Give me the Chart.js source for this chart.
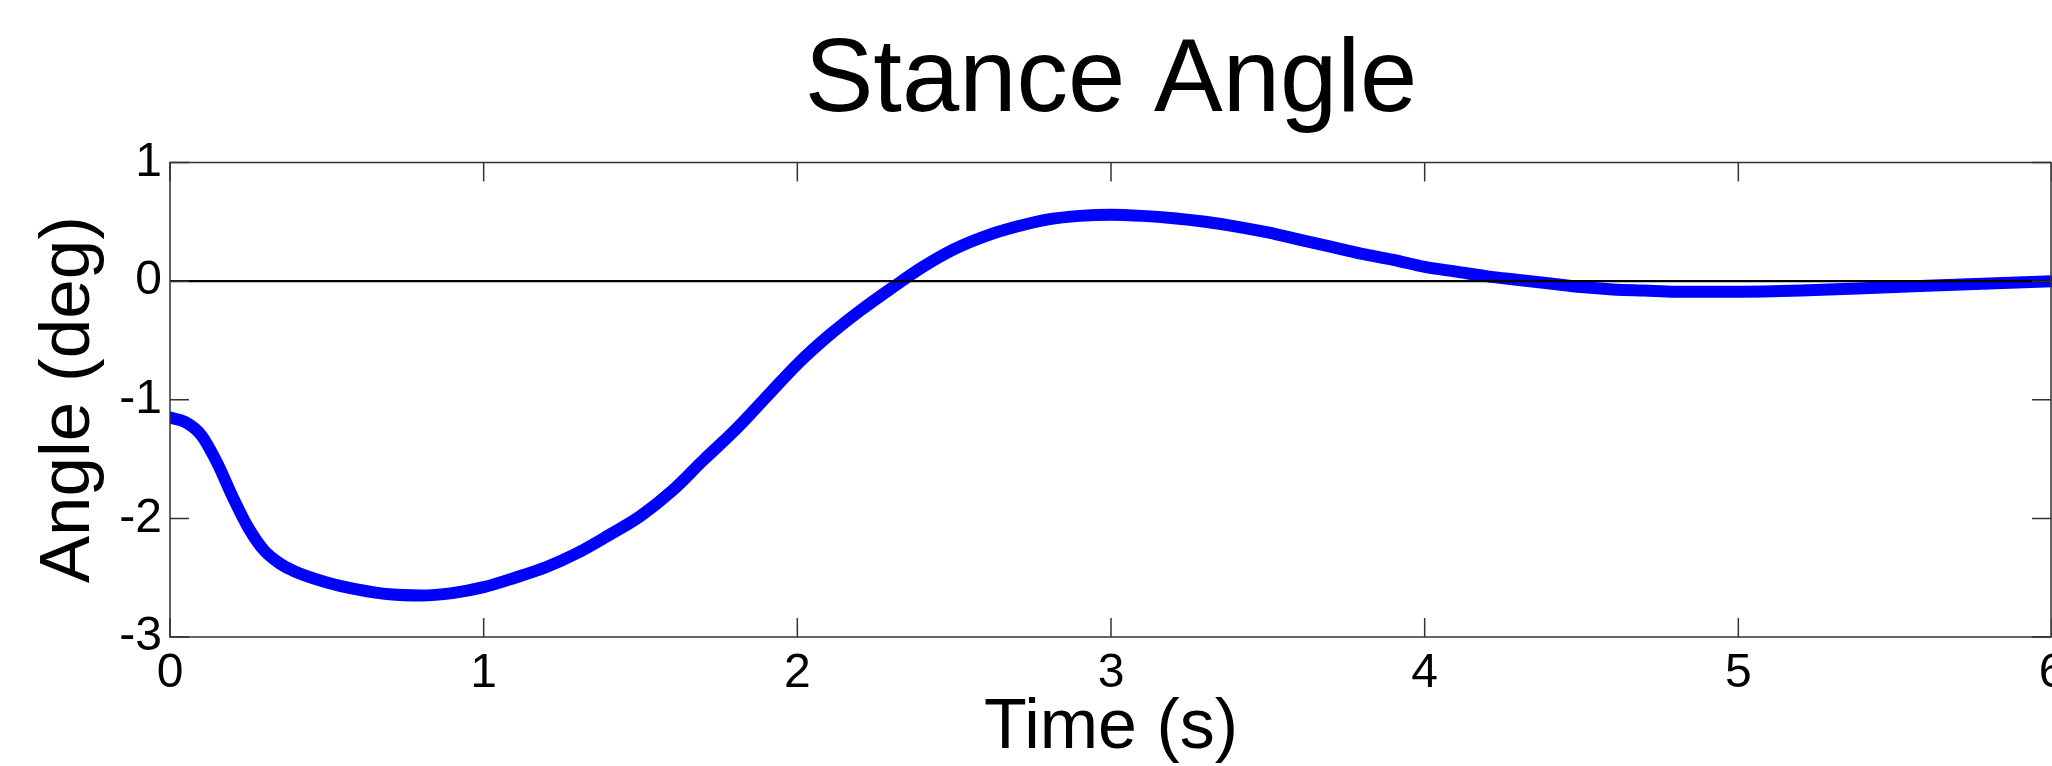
<!DOCTYPE html>
<html>
<head>
<meta charset="utf-8">
<script src="https://cdn.jsdelivr.net/npm/chart.js@4.4.1/dist/chart.umd.min.js"></script>
<style>
  html, body { margin: 0; padding: 0; background: #fff; overflow: hidden; }
  #wrap { width: 2052px; height: 766px; }
</style>
</head>
<body>
<div id="wrap"><canvas id="c" width="2052" height="766"></canvas></div>
<script>
// ---- data ----
const chartTitle = 'Stance Angle';
const xAxisTitle = 'Time (s)';
const yAxisTitle = 'Angle (deg)';
const xTicks = [0, 1, 2, 3, 4, 5, 6];
const yTicks = [-3, -2, -1, 0, 1];

const times = [0.00, 0.05, 0.10, 0.15, 0.20, 0.25, 0.30, 0.35, 0.40, 0.50,
               0.60, 0.70, 0.80, 0.90, 1.00, 1.10, 1.20, 1.30, 1.40, 1.50,
               1.60, 1.70, 1.80, 1.90, 2.00, 2.10, 2.20, 2.30, 2.40, 2.50,
               2.60, 2.70, 2.80, 2.90, 3.00, 3.10, 3.20, 3.30, 3.40, 3.50,
               3.60, 3.70, 3.80, 3.90, 4.00, 4.10, 4.20, 4.30, 4.40, 4.50,
               4.60, 4.70, 4.80, 4.90, 5.00, 5.20, 5.40, 5.60, 5.80, 6.00];
const angles = [-1.15, -1.19, -1.30, -1.53, -1.82, -2.08, -2.27, -2.38, -2.45, -2.54,
                -2.60, -2.64, -2.65, -2.63, -2.58, -2.50, -2.41, -2.29, -2.14, -1.98,
                -1.77, -1.51, -1.26, -0.98, -0.70, -0.46, -0.25, -0.06, 0.12, 0.27,
                0.38, 0.46, 0.52, 0.55, 0.56, 0.55, 0.53, 0.50, 0.46, 0.41,
                0.35, 0.29, 0.23, 0.18, 0.12, 0.08, 0.04, 0.01, -0.02, -0.05,
                -0.07, -0.08, -0.09, -0.09, -0.09, -0.08, -0.06, -0.04, -0.02, 0.00];

const refTimes = [0, 6];
const refValues = [0, 0];

// ---- build chart ----
const FONT = 'Liberation Sans, Arial, sans-serif';
const curve = times.map((t, i) => ({ x: t, y: angles[i] }));
const ref = refTimes.map((t, i) => ({ x: t, y: refValues[i] }));

const boxTicks = {
  id: 'boxTicks',
  afterDraw(chart) {
    const { ctx, chartArea: a, scales } = chart;
    const L = 19;
    ctx.save();
    ctx.strokeStyle = '#333';
    ctx.lineWidth = 1.5;
    ctx.strokeRect(a.left, a.top, a.right - a.left - 1, a.bottom - a.top);
    ctx.beginPath();
    xTicks.forEach(v => {
      const px = scales.x.getPixelForValue(v);
      ctx.moveTo(px, a.bottom); ctx.lineTo(px, a.bottom - L);
      ctx.moveTo(px, a.top); ctx.lineTo(px, a.top + L);
    });
    yTicks.forEach(v => {
      const py = scales.y.getPixelForValue(v);
      ctx.moveTo(a.left, py); ctx.lineTo(a.left + L, py);
      ctx.moveTo(a.right - 1, py); ctx.lineTo(a.right - 1 - L, py);
    });
    ctx.stroke();
    ctx.restore();
  }
};

new Chart(document.getElementById('c'), {
  type: 'line',
  data: {
    datasets: [
      { data: ref, borderColor: '#000000', borderWidth: 2.2, pointRadius: 0, order: 0 },
      { data: curve, borderColor: '#0000FF', borderWidth: 12, pointRadius: 0,
        cubicInterpolationMode: 'monotone', borderJoinStyle: 'round', borderCapStyle: 'round', order: 1 }
    ]
  },
  options: {
    responsive: false,
    devicePixelRatio: 1,
    animation: false,
    events: [],
    layout: { padding: 0 },
    plugins: {
      legend: { display: false },
      tooltip: { enabled: false },
      title: {
        display: true,
        fullSize: false,
        text: chartTitle,
        color: '#000',
        font: { family: FONT, size: 103, weight: 'normal', lineHeight: 1.2 },
        padding: { top: 21, bottom: 17.9 }
      }
    },
    scales: {
      x: {
        type: 'linear',
        min: 0, max: 6,
        afterBuildTicks: s => { s.ticks = xTicks.map(v => ({ value: v })); },
        ticks: { color: '#000', font: { family: FONT, size: 48 }, padding: 8, maxRotation: 0, autoSkip: false },
        grid: { display: false, drawTicks: false },
        border: { display: false },
        title: {
          display: true, text: xAxisTitle, color: '#000',
          font: { family: FONT, size: 70, lineHeight: 1 },
          padding: { top: 0, bottom: 2.3 }
        },
        afterFit: s => { s.height = 129; s.paddingLeft = 0; s.paddingRight = 0; }
      },
      y: {
        type: 'linear',
        min: -3, max: 1,
        afterBuildTicks: s => { s.ticks = yTicks.map(v => ({ value: v })); },
        ticks: { color: '#000', font: { family: FONT, size: 48 }, padding: 8 },
        grid: { display: false, drawTicks: false },
        border: { display: false },
        title: {
          display: true, text: yAxisTitle, color: '#000',
          font: { family: FONT, size: 71, lineHeight: 1 },
          padding: { top: 34, bottom: 0 }
        },
        afterFit: s => { s.width = 170; s.paddingTop = 0; s.paddingBottom = 0; }
      }
    }
  },
  plugins: [boxTicks]
});
</script>
</body>
</html>
